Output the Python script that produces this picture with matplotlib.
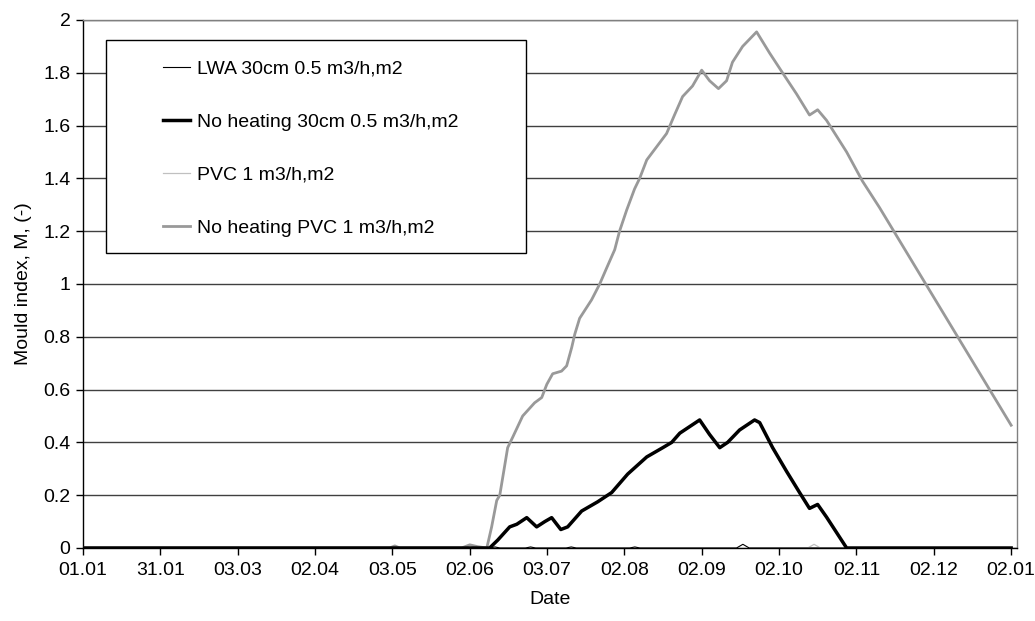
import matplotlib
matplotlib.use("Agg")
import matplotlib.pyplot as plt
from matplotlib.patches import Rectangle

plt.rcParams['font.family'] = ['Liberation Sans', 'DejaVu Sans']

# x tick labels (one every 1/12 year)
x_tick_labels = ["01.01", "31.01", "03.03", "02.04", "03.05", "02.06", "03.07",
                 "02.08", "02.09", "02.10", "02.11", "02.12", "02.01"]
y_ticks = [0, 0.2, 0.4, 0.6, 0.8, 1.0, 1.2, 1.4, 1.6, 1.8, 2.0]
y_tick_labels = ["0", "0.2", "0.4", "0.6", "0.8", "1", "1.2", "1.4", "1.6", "1.8", "2"]

# Series: day of year -> mould index
lwa_days = [0, 159.9, 162.0, 164.0, 174.0, 176.0, 178.0, 190.0, 192.0, 194.0,
            215.0, 217.0, 219.0, 257.0, 259.5, 262.0, 365]
lwa_vals = [0, 0, 0.004, 0, 0, 0.004, 0, 0, 0.004, 0,
            0, 0.004, 0, 0, 0.014, 0, 0]

noheat30_days = [0, 159.9, 163.1, 167.8, 170.6, 174.5, 178.4, 181.6, 184.3, 187.9,
                 190.6, 196.1, 202.4, 207.9, 214.2, 221.7, 228.0, 231.5, 234.7,
                 238.6, 242.5, 246.4, 250.4, 253.5, 258.2, 264.1, 266.1, 271.2,
                 276.7, 281.8, 285.7, 288.9, 292.4, 300.3, 365]
noheat30_vals = [0, 0, 0.03, 0.08, 0.09, 0.115, 0.08, 0.10, 0.115, 0.07,
                 0.08, 0.14, 0.175, 0.21, 0.28, 0.345, 0.38, 0.40, 0.435,
                 0.46, 0.485, 0.43, 0.38, 0.40, 0.447, 0.485, 0.475, 0.38,
                 0.29, 0.21, 0.15, 0.165, 0.117, 0, 0]

pvc_days = [0, 285.0, 287.5, 290.0, 365]
pvc_vals = [0, 0, 0.014, 0, 0]

noheatpvc_days = [0, 120.6, 122.6, 124.6, 148.9, 152.1, 155.2, 158.8, 160.7, 162.7,
                  163.9, 165.8, 167.0, 169.0, 172.9, 177.6, 180.4, 182.4, 184.7,
                  188.2, 190.2, 192.2, 193.4, 195.3, 200.0, 203.2, 205.9, 209.1,
                  211.0, 213.8, 216.9, 218.9, 221.7, 225.6, 229.5, 232.6, 235.8,
                  239.7, 243.3, 246.4, 249.9, 253.1, 255.4, 259.4, 264.9, 270.0,
                  275.1, 280.6, 285.7, 288.9, 292.4, 300.3, 306.5, 313.2, 365]
noheatpvc_vals = [0, 0, 0.008, 0, 0, 0.012, 0.005, 0, 0.08, 0.18,
                  0.2, 0.31, 0.38, 0.42, 0.50, 0.55, 0.57, 0.62, 0.66,
                  0.67, 0.69, 0.76, 0.81, 0.87, 0.94, 1.0, 1.06, 1.13,
                  1.2, 1.28, 1.36, 1.40, 1.47, 1.52, 1.57, 1.64, 1.71,
                  1.75, 1.81, 1.77, 1.74, 1.77, 1.84, 1.90, 1.955, 1.875,
                  1.80, 1.72, 1.64, 1.66, 1.62, 1.50, 1.39, 1.29, 0.465]

labels = ["LWA 30cm 0.5 m3/h,m2", "No heating 30cm 0.5 m3/h,m2",
          "PVC 1 m3/h,m2", "No heating PVC 1 m3/h,m2"]

fig = plt.figure(figsize=(10.35, 6.21), dpi=100)
ax = fig.add_axes([83/1035, (621-548)/621, (1017-83)/1035, (548-20)/621])

FS = 14
l1, = ax.plot(lwa_days, lwa_vals, color='black', lw=0.8, zorder=4)
l2, = ax.plot(noheat30_days, noheat30_vals, color='black', lw=2.5, zorder=5,
              solid_joinstyle='round')
l3, = ax.plot(pvc_days, pvc_vals, color='#c0c0c0', lw=0.9, zorder=3)
l4, = ax.plot(noheatpvc_days, noheatpvc_vals, color='#999999', lw=2.0, zorder=3,
              solid_joinstyle='round')

ax.set_xlim(0, 367.3)
ax.set_ylim(0, 2)
ax.set_xticks([i * 365 / 12 for i in range(13)])
ax.set_xticklabels(x_tick_labels, fontsize=FS)
ax.set_yticks(y_ticks)
ax.set_yticklabels(y_tick_labels, fontsize=FS)
ax.tick_params(axis='both', direction='out', length=5, width=1, color='black')
ax.tick_params(axis='x', pad=5)
ax.tick_params(axis='y', pad=4)

ax.yaxis.grid(True, color='#404040', lw=1.0)
ax.set_axisbelow(True)
for s in ['left', 'bottom']:
    ax.spines[s].set_color('black')
    ax.spines[s].set_linewidth(1.0)
for s in ['top', 'right']:
    ax.spines[s].set_color('#808080')
    ax.spines[s].set_linewidth(1.0)

ax.set_xlabel("Date", fontsize=FS, labelpad=9)
ax.set_ylabel("Mould index, M, (-)", fontsize=FS, labelpad=8)

# legend frame
x0 = (106 - 83) / 934
y0 = (548 - 253) / 528
w = (526 - 106) / 934
h = (253 - 40) / 528
ax.add_patch(Rectangle((x0, y0), w, h, transform=ax.transAxes, facecolor='white',
                       edgecolor='black', lw=1.0, zorder=6))
leg = ax.legend([l1, l2, l3, l4], labels, loc='upper left',
                bbox_to_anchor=((163 - 83) / 934, (548 - 60) / 528),
                frameon=False, fontsize=FS, borderpad=0, borderaxespad=0,
                handlelength=1.4, handletextpad=0.35, labelspacing=1.82)
leg.set_zorder(7)

fig.savefig("out.png", dpi=100)
